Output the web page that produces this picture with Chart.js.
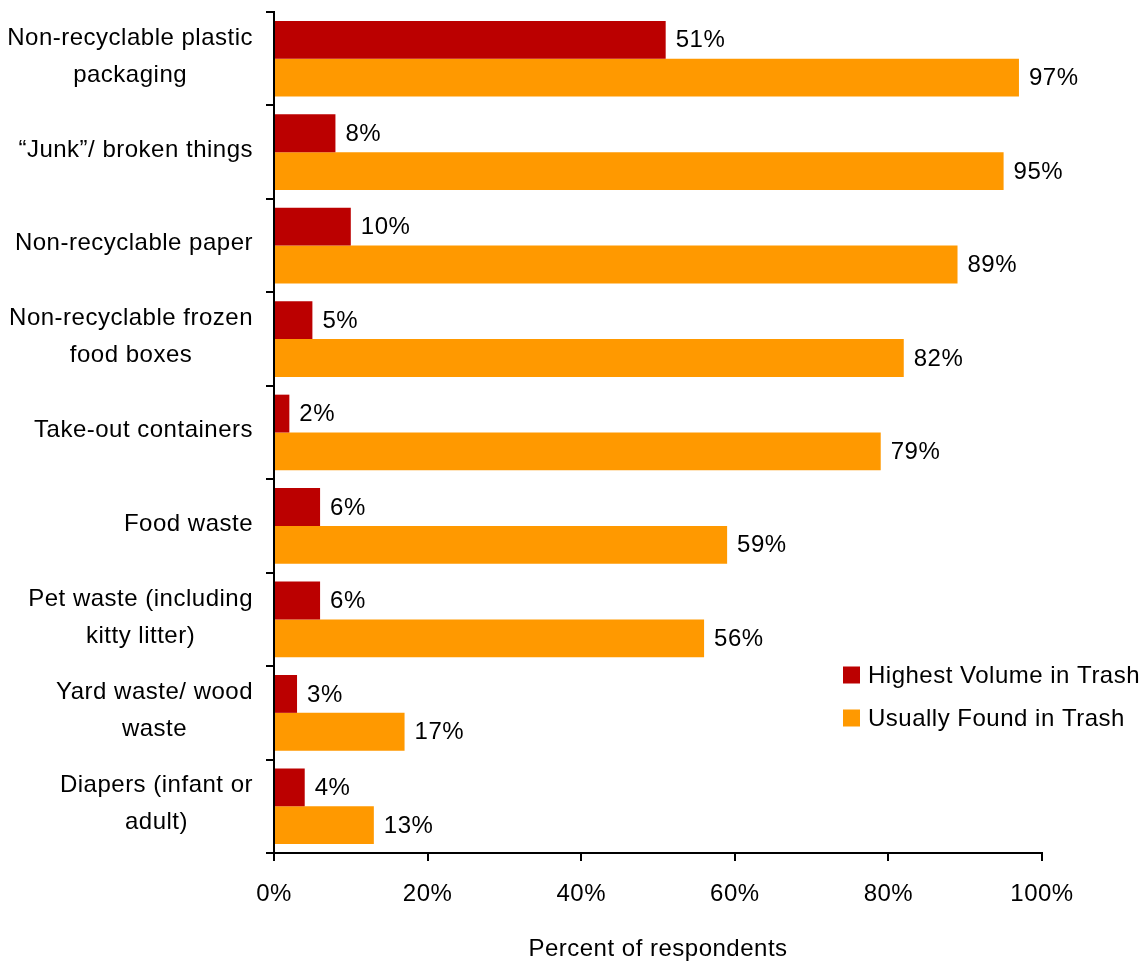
<!DOCTYPE html>
<html>
<head>
<meta charset="utf-8">
<script src="https://cdn.jsdelivr.net/npm/chart.js@4"></script>
<style>
  html, body { margin: 0; padding: 0; background: #fff; }
  #wrap { width: 1143px; height: 964px; }
</style>
</head>
<body>
<div id="wrap"><canvas id="c" width="1143" height="964"></canvas></div>
<script>
const categories = [
  ["Non-recyclable plastic", "packaging"],
  ["\u201cJunk\u201d/ broken things"],
  ["Non-recyclable paper"],
  ["Non-recyclable frozen", "food boxes"],
  ["Take-out containers"],
  ["Food waste"],
  ["Pet waste (including", "kitty litter)"],
  ["Yard waste/ wood", "waste"],
  ["Diapers (infant or", "adult)"]
];
const highestVolume = [51, 8, 10, 5, 2, 6, 6, 3, 4];
const usuallyFound = [97, 95, 89, 82, 79, 59, 56, 17, 13];
const seriesNames = ["Highest Volume in Trash", "Usually Found in Trash"];
const xTicks = [0, 20, 40, 60, 80, 100];

const FONT = "'Liberation Sans', Arial, sans-serif";
const FS = 24;
const LS = '0.5px';
Chart.defaults.font.family = FONT;
Chart.defaults.font.size = FS;
Chart.defaults.color = '#000';

const spacingPlugin = {
  id: 'spacing',
  beforeDraw(chart) { chart.ctx.letterSpacing = LS; }
};

const yLabelPlugin = {
  id: 'yLabels',
  afterDraw(chart) {
    const ctx = chart.ctx;
    const ys = chart.scales.y;
    ctx.save();
    ctx.letterSpacing = LS;
    ctx.font = FS + "px " + FONT;
    ctx.fillStyle = '#000';
    ctx.textAlign = 'center';
    ctx.textBaseline = 'middle';
    const rightEdge = ys.right - 21;
    categories.forEach((lines, i) => {
      const y = ys.getPixelForValue(i);
      let maxW = 0;
      lines.forEach(l => { maxW = Math.max(maxW, ctx.measureText(l).width); });
      const cx = rightEdge - maxW / 2;
      const lh = 37;
      lines.forEach((l, j) => {
        ctx.fillText(l, cx, y - 2 + (j - (lines.length - 1) / 2) * lh);
      });
    });
    ctx.restore();
  }
};

const valueLabelPlugin = {
  id: 'valueLabels',
  afterDatasetsDraw(chart) {
    const ctx = chart.ctx;
    ctx.save();
    ctx.letterSpacing = LS;
    ctx.font = FS + "px " + FONT;
    ctx.fillStyle = '#000';
    ctx.textAlign = 'left';
    ctx.textBaseline = 'middle';
    chart.data.datasets.forEach((ds, di) => {
      const meta = chart.getDatasetMeta(di);
      meta.data.forEach((bar, i) => {
        ctx.fillText(ds.data[i] + '%', bar.x + 10, bar.y + 1);
      });
    });
    ctx.restore();
  }
};

const legendPlugin = {
  id: 'innerLegend',
  afterDraw(chart) {
    const ctx = chart.ctx;
    ctx.save();
    ctx.letterSpacing = LS;
    ctx.font = FS + "px " + FONT;
    ctx.textAlign = 'left';
    ctx.textBaseline = 'middle';
    const x0 = 843, y0 = 675, gap = 43, sq = 17;
    chart.data.datasets.forEach((ds, i) => {
      const y = y0 + i * gap;
      ctx.fillStyle = ds.backgroundColor;
      ctx.fillRect(x0, y - sq / 2, sq, sq);
      ctx.fillStyle = '#000';
      ctx.fillText(ds.label, x0 + 25, y + 1);
    });
    ctx.restore();
  }
};

new Chart(document.getElementById('c'), {
  type: 'bar',
  data: {
    labels: categories.map(c => c.join(' ')),
    datasets: [
      { label: seriesNames[0], data: highestVolume, backgroundColor: '#BB0000', barPercentage: 1.0, categoryPercentage: 0.81 },
      { label: seriesNames[1], data: usuallyFound, backgroundColor: '#FF9900', barPercentage: 1.0, categoryPercentage: 0.81 }
    ]
  },
  options: {
    indexAxis: 'y',
    responsive: false,
    animation: false,
    layout: { padding: { top: 12, right: 101, bottom: 0, left: 0 } },
    plugins: { legend: { display: false }, tooltip: { enabled: false } },
    scales: {
      x: {
        min: 0, max: 100,
        afterBuildTicks(scale) { scale.ticks = xTicks.map(v => ({ value: v })); },
        ticks: { callback: v => v + '%', padding: 19, maxRotation: 0, font: { size: FS } },
        grid: { drawOnChartArea: false, tickLength: 8, color: '#000', lineWidth: 2 },
        border: { color: '#000', width: 2 },
        title: { display: true, text: 'Percent of respondents', font: { size: FS }, padding: { top: 20, bottom: 0 } },
        afterFit(scale) { scale.height = 111; }
      },
      y: {
        ticks: { display: false },
        grid: { drawOnChartArea: false, tickLength: 8, color: '#000', lineWidth: 2, offset: true },
        border: { color: '#000', width: 2 },
        afterFit(scale) { scale.width = 274; }
      }
    }
  },
  plugins: [spacingPlugin, yLabelPlugin, valueLabelPlugin, legendPlugin]
});
</script>
</body>
</html>
